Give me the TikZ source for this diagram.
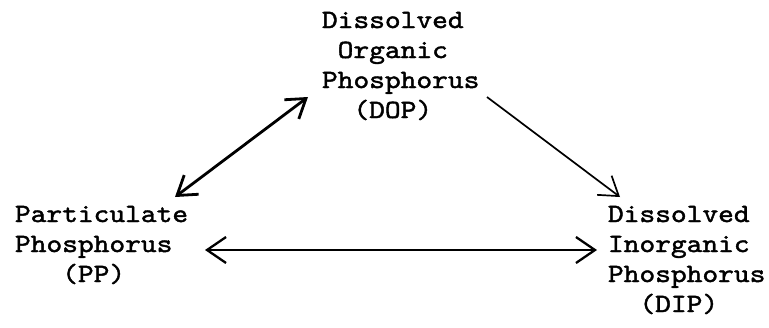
\documentclass[tikz,border=0pt]{standalone}
\usepackage{fontspec}
\newfontfamily\typew{lmmono10-regular.otf}[FakeStretch=1.14,FakeBold=1.6]
\usetikzlibrary{arrows.meta}
\tikzset{
  label/.style={anchor=base west, inner sep=0pt, outer sep=0pt,
    font=\fontsize{26.3bp}{30bp}\selectfont\typew},
  thickarrow/.style={line width=2.8bp, {Straight Barb[length=18bp,width=24bp]}-{Straight Barb[length=18bp,width=24bp]}},
  horizarrow/.style={line width=2.3bp, {Straight Barb[length=19bp,width=26bp]}-{Straight Barb[length=19bp,width=26bp]}},
  thinarrow/.style={line width=1.7bp, -{Straight Barb[length=18bp,width=24bp]}}
}
\begin{document}
\begin{tikzpicture}[x=1bp,y=-1bp]
\useasboundingbox (0,0) rectangle (769,327);
\node[label] (dop) at (322,28) {\begin{tabular}[t]{@{}l@{}}Dissolved\\\phantom{x}Organic\\Phosphorus\\\phantom{xx}(DOP)\end{tabular}};
\node[label] (pp) at (15,222) {\begin{tabular}[t]{@{}l@{}}Particulate\\Phosphorus\\\phantom{xxx}(PP)\end{tabular}};
\node[label] (dip) at (608,222) {\begin{tabular}[t]{@{}l@{}}Dissolved\\Inorganic\\Phosphorus\\\phantom{xx}(DIP)\end{tabular}};
\draw[thickarrow] ([shift={(160,-25)}]pp.base west) -- ([shift={(-14,69)}]dop.base west);
\draw[thinarrow] ([shift={(165,69)}]dop.base west) -- ([shift={(12,-25)}]dip.base west);
\draw[horizarrow] ([shift={(190,28)}]pp.base west) -- ([shift={(-11,28)}]dip.base west);
\end{tikzpicture}
\end{document}
